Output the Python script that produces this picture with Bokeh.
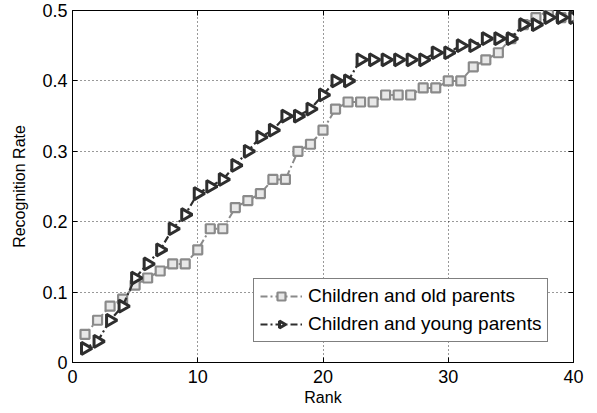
import numpy as np
from bokeh.plotting import figure
from bokeh.models import Range1d, FixedTicker, LinearAxis, Legend, LegendItem, ColumnDataSource
from bokeh.embed import file_html
from bokeh.resources import INLINE

rank = list(range(1, 41))
old_parents = [0.04, 0.06, 0.08, 0.09, 0.11, 0.12, 0.13, 0.14, 0.14, 0.16,
               0.19, 0.19, 0.22, 0.23, 0.24, 0.26, 0.26, 0.30, 0.31, 0.33,
               0.36, 0.37, 0.37, 0.37, 0.38, 0.38, 0.38, 0.39, 0.39, 0.40,
               0.40, 0.42, 0.43, 0.44, 0.46, 0.48, 0.49, 0.50, 0.49, 0.49]
young_parents = [0.02, 0.03, 0.06, 0.08, 0.12, 0.14, 0.16, 0.19, 0.21, 0.24,
                 0.25, 0.26, 0.28, 0.30, 0.32, 0.33, 0.35, 0.35, 0.36, 0.38,
                 0.40, 0.40, 0.43, 0.43, 0.43, 0.43, 0.43, 0.43, 0.44, 0.44,
                 0.45, 0.45, 0.46, 0.46, 0.46, 0.48, 0.48, 0.49, 0.49, 0.49]
series_names = ["Children and old parents", "Children and young parents"]
x_ticks = [0, 10, 20, 30, 40]
y_ticks = [0, 0.1, 0.2, 0.3, 0.4, 0.5]
y_tick_labels = {0: "0", 0.1: "0.1", 0.2: "0.2", 0.3: "0.3", 0.4: "0.4", 0.5: "0.5"}

FONT = "Liberation Sans"
GRAY = "#8a8a8a"
DARK = "#2e2e2e"

p = figure(width=589, height=409, output_backend="svg", toolbar_location=None,
           x_range=Range1d(0, 40), y_range=Range1d(0, 0.5),
           min_border_left=72, min_border_right=16, min_border_top=10, min_border_bottom=47)
p.background_fill_color = "white"
p.border_fill_color = "white"
p.outline_line_color = "black"
p.outline_line_width = 1

for ax, ticks in ((p.xaxis[0], x_ticks), (p.yaxis[0], y_ticks)):
    ax.ticker = FixedTicker(ticks=ticks)
    ax.major_tick_in = 5
    ax.major_tick_out = 0
    ax.minor_tick_line_color = None
    ax.axis_line_color = "black"
    ax.major_tick_line_color = "black"
    ax.major_label_text_font = FONT
    ax.major_label_text_font_size = "18px"
    ax.major_label_text_color = "black"
    ax.axis_label_text_font = FONT
    ax.axis_label_text_font_size = "16px"
    ax.axis_label_text_font_style = "normal"
    ax.axis_label_text_color = "black"

p.yaxis[0].major_label_overrides = y_tick_labels
p.xaxis[0].axis_label = "Rank"
p.yaxis[0].axis_label = "Recognition Rate"
p.xaxis[0].major_label_standoff = 7
p.yaxis[0].major_label_standoff = 5
p.xaxis[0].axis_label_standoff = 3
p.yaxis[0].axis_label_standoff = 11

# mirror ticks on top and right (inward), without labels
for loc, ticks in (("right", y_ticks), ("above", x_ticks)):
    ax = LinearAxis(ticker=FixedTicker(ticks=ticks))
    ax.major_tick_in = 5
    ax.major_tick_out = 0
    ax.minor_tick_line_color = None
    ax.axis_line_color = None
    ax.major_label_text_color = None
    ax.major_label_text_font_size = "1px"
    ax.major_label_standoff = 0
    p.add_layout(ax, loc)

p.xgrid[0].ticker = FixedTicker(ticks=x_ticks)
p.ygrid[0].ticker = FixedTicker(ticks=y_ticks)
for g in (p.xgrid[0], p.ygrid[0]):
    g.grid_line_color = "black"
    g.grid_line_dash = "1 3"
    g.grid_line_width = 1
    g.grid_line_alpha = 0.8

src_old = ColumnDataSource(dict(x=rank, y=old_parents))
src_young = ColumnDataSource(dict(x=rank, y=young_parents))

l1 = p.line("x", "y", source=src_old, line_color=GRAY, line_width=2, line_dash="7 3 2 3")
s1 = p.scatter("x", "y", source=src_old, marker="square", size=9, line_color=GRAY,
               line_width=2.2, fill_color="#e8e8e8")
l2 = p.line("x", "y", source=src_young, line_color=DARK, line_width=2.2, line_dash="7 3 2 3")
s2 = p.ngon("x", "y", source=src_young, n=3, radius=7, radius_units="screen",
            angle=-np.pi / 2, line_color=DARK, line_width=3, fill_color="white")

legend = Legend(items=[LegendItem(label=series_names[0], renderers=[l1, s1]),
                       LegendItem(label=series_names[1], renderers=[l2, s2])],
                location=(181, 20))
legend.label_text_font = FONT
legend.label_text_font_size = "19px"
legend.label_text_color = "black"
legend.border_line_color = "black"
legend.border_line_width = 1
legend.background_fill_color = "white"
legend.background_fill_alpha = 1
legend.glyph_width = 42
legend.glyph_height = 20
legend.label_height = 20
legend.label_standoff = 6
legend.spacing = 6
legend.padding = 6
legend.margin = 0
p.add_layout(legend, "center")

open("out.html", "w").write(file_html(p, INLINE))
